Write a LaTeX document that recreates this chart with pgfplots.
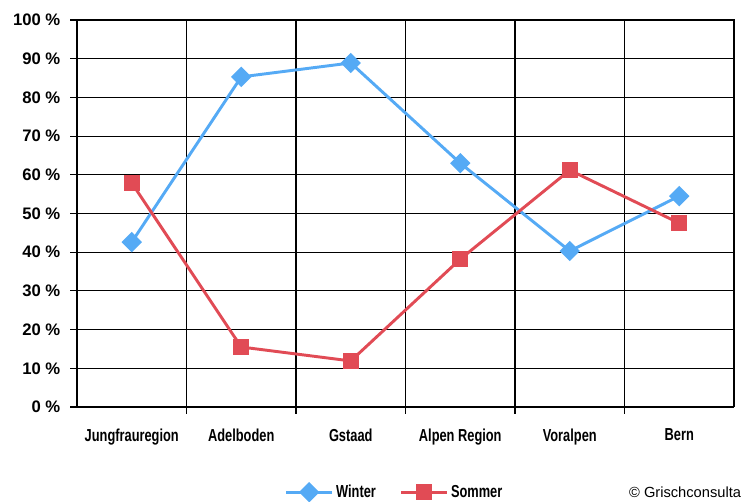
\documentclass[border=0pt]{standalone}
\usepackage{pgfplots}
\pgfplotsset{compat=1.18}
\usepackage{fontspec}
\setmainfont{Liberation Sans}
\newfontfamily\cond[FakeStretch=0.74]{Liberation Sans}
\definecolor{winterblue}{RGB}{85,170,245}
\definecolor{sommerred}{RGB}{225,75,85}
\begin{document}
\begin{tikzpicture}
\begin{axis}[
  name=ax,
  scale only axis,
  width=492.75pt, height=290.25pt,
  xmin=-0.5, xmax=5.5, ymin=0, ymax=100,
  xtick={0,...,5},
  xticklabels={Jungfrauregion,Adelboden,Gstaad,Alpen Region,Voralpen,Bern},
  major x tick style={draw=none},
  minor xtick={0.5,1.5,2.5,3.5,4.5},
  extra x ticks={-0.5,5.5}, extra x tick labels={},
  extra x tick style={grid=none, major tick length=5pt, tick style={draw=black,line width=0.8pt}},
  xminorgrids=true,
  minor x grid style={black, line width=0.8pt},
  minor tick length=5pt,
  tick align=outside,
  ytick={0,10,...,100},
  yticklabel={\pgfmathprintnumber{\tick} \%},
  ymajorgrids=true,
  major y grid style={black, line width=0.8pt},
  major tick length=5pt,
  tick style={black, line width=0.8pt},
  axis line style={black, line width=0.8pt},
  axis y line*=left, axis x line*=bottom,
  /pgf/number format/assume math mode=true,
  yticklabel style={font=\fontsize{12.5}{14}\selectfont\bfseries, xshift=-4pt},
  xticklabel style={font=\fontsize{13}{15}\cond\bfseries, yshift=-8pt},
  legend style={at={(0.484,-0.22)}, anchor=center, draw=none, fill=none,
    legend columns=2, font=\fontsize{13}{15}\cond\bfseries,
    /tikz/every even column/.append style={column sep=16pt}},
  legend image code/.code={\draw[mark repeat=2,mark phase=2] plot coordinates {(0cm,0cm) (0.6cm,0cm) (1.2cm,0cm)};},
  clip=false,
]
\draw[black, line width=0.8pt] (rel axis cs:0,1) -- (rel axis cs:1,1) -- (rel axis cs:1,0);
\addplot[winterblue, line width=2.2pt, mark=square*, mark size=4.3pt, mark options={solid, rotate=45}]
  coordinates {(0,42.6) (1,85.3) (2,88.9) (3,63.0) (4,40.3) (5,54.5)};
\addlegendentry{Winter}
\addplot[sommerred, line width=2.2pt, mark=square*, mark size=5pt, mark options={solid}]
  coordinates {(0,57.9) (1,15.5) (2,11.9) (3,38.2) (4,61.2) (5,47.5)};
\addlegendentry{Sommer}
\node[anchor=west, font=\fontsize{11}{13}\selectfont, inner sep=0pt] at (rel axis cs:0.84,-0.22) {© Grischconsulta};
\end{axis}
\pgfresetboundingbox
\path[use as bounding box] ([shift={(-57.75pt,-71.25pt)}]ax.south west) rectangle ([shift={(498pt,305.25pt)}]ax.south west);
\end{tikzpicture}
\end{document}
